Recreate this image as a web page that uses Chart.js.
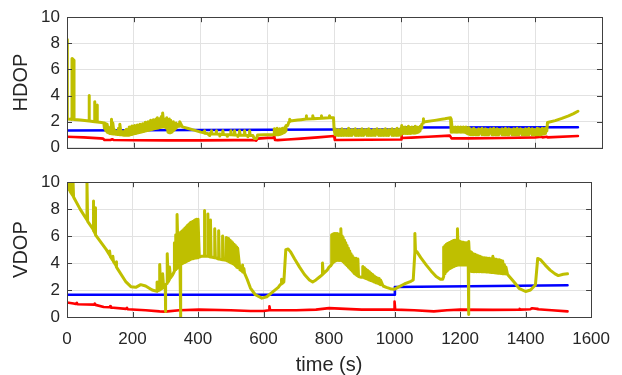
<!DOCTYPE html>
<html>
<head>
<meta charset="utf-8">
<script src="https://cdn.jsdelivr.net/npm/chart.js@4.4.1/dist/chart.umd.min.js"></script>
<style>
    html, body { margin: 0; padding: 0; background: #fff; }
    canvas { position: absolute; left: 0; }
    #hdopChart { top: 0; }
    #vdopChart { top: 165px; }
</style>
</head>
<body>
<canvas id="hdopChart" width="622" height="165"></canvas>
<canvas id="vdopChart" width="622" height="210"></canvas>
<script>
// ===============================
// Data (time in s)
// [t, v] = one point, [t, lo, hi] = a vertical stroke at t (dense noisy parts)
// ===============================
const xTickValues = [0, 200, 400, 600, 800, 1000, 1200, 1400, 1600];
const yTickValues = [0, 2, 4, 6, 8, 10];

const hdopOlive = [
    [0, 8.3], [1, 2.2], [10, 2.18], [15, 2.17], [15, 6.84], [21, 6.7], [21, 2.16], [40, 2.12],
    [66, 2.06], [66, 4.0], [67, 2.06], [83, 2.0], [83, 3.53], [84, 2.0], [90, 1.98], [90, 3.28], [91, 1.98],
    [103, 1.94], [110, 1.9],
    [112, 1.5, 1.9], [116, 1.3, 1.85], [120, 1.2, 1.8], [124, 1.15, 1.6], [128, 1.1, 1.5], [133, 1.08, 2.18],
    [137, 1.06, 1.9], [141, 1.05, 1.4], [145, 1.04, 1.3], [150, 1.03, 1.25], [154, 1.02, 1.5], [158, 1.0, 1.8],
    [162, 1.0, 1.3], [166, 0.98, 1.2], [170, 0.97, 1.25], [174, 0.96, 1.35], [178, 0.96, 1.42], [182, 0.96, 1.2],
    [186, 0.97, 1.6], [190, 1.0, 1.35], [194, 1.02, 1.67], [198, 1.05, 1.4], [202, 1.08, 1.7], [206, 1.1, 1.5],
    [210, 1.13, 1.75], [214, 1.15, 1.55], [218, 1.18, 1.8], [222, 1.2, 1.6], [226, 1.23, 1.85], [230, 1.25, 1.7],
    [234, 1.28, 1.95], [238, 1.3, 1.8], [242, 1.33, 2.0], [246, 1.35, 1.9], [250, 1.38, 2.1], [254, 1.4, 1.95],
    [258, 1.43, 2.15], [262, 1.45, 2.0], [266, 1.48, 2.2], [270, 1.5, 2.3], [274, 1.52, 2.1], [278, 1.55, 2.25],
    [282, 1.57, 2.4], [286, 1.6, 2.67], [290, 1.6, 2.2], [294, 1.58, 2.0], [298, 1.5, 2.3], [302, 1.2, 2.0],
    [306, 1.15, 2.2], [310, 1.15, 2.1], [314, 1.2, 1.9], [318, 1.3, 2.0], [322, 1.4, 1.8], [326, 1.5, 1.9],
    [330, 1.6, 1.8], [337, 1.65, 2.0],
    [345, 1.6], [360, 1.5], [380, 1.35], [400, 1.2], [410, 1.15], [411, 1.3], [412, 1.12], [420, 1.1],
    [426, 0.95], [427, 1.1], [431, 1.08], [431, 1.3], [433, 1.07], [446, 1.05], [446, 1.3], [448, 1.05],
    [456, 1.03], [457, 0.9], [458, 1.03], [466, 1.02], [466, 1.3], [468, 1.02], [478, 1.0], [479, 0.88],
    [480, 1.0], [490, 0.99], [490, 1.3], [492, 0.99], [501, 0.98], [501, 1.3], [503, 0.98], [510, 0.97],
    [511, 0.87], [512, 0.97], [516, 0.97], [516, 1.3], [518, 0.97], [531, 0.96], [531, 1.3], [533, 0.96],
    [540, 0.95], [541, 0.85], [542, 0.95], [546, 0.95], [546, 1.3], [548, 0.95], [556, 0.94], [560, 0.72],
    [567, 0.72], [570, 0.98], [590, 1.0], [618, 1.0],
    [620, 1.0, 1.45], [624, 1.0, 1.3], [628, 1.0, 1.5], [632, 1.0, 1.35], [636, 1.02, 1.45], [640, 1.05, 1.3],
    [644, 1.1, 1.5], [648, 1.15, 1.35], [652, 1.2, 1.6], [655, 1.3, 1.7],
    [660, 1.7], [663, 1.94], [666, 2.0], [666, 2.18], [668, 2.05], [690, 2.12], [700, 2.15], [715, 2.2],
    [715, 2.45], [717, 2.2], [735, 2.23], [735, 2.45], [737, 2.23], [760, 2.27], [760, 2.45], [762, 2.27],
    [785, 2.3], [785, 2.45], [787, 2.3], [797, 2.3], [799, 1.35],
    [802, 1.0, 1.45], [807, 0.96, 1.35], [812, 0.95, 1.4], [817, 0.95, 1.3], [822, 0.95, 1.45], [827, 0.95, 1.35],
    [832, 0.96, 1.38], [837, 0.95, 1.3], [842, 0.95, 1.5], [847, 0.95, 1.35], [852, 0.95, 1.4], [857, 1.1, 1.35],
    [862, 0.95, 1.45], [867, 0.95, 1.3], [872, 0.95, 1.38], [877, 0.96, 1.35], [882, 0.95, 1.45], [887, 0.95, 1.3],
    [892, 1.1, 1.4], [897, 0.95, 1.35], [902, 0.95, 1.45], [907, 0.95, 1.35], [912, 0.95, 1.3], [917, 0.96, 1.4],
    [922, 0.95, 1.35], [927, 1.1, 1.45], [932, 0.95, 1.3], [937, 0.95, 1.4], [942, 0.95, 1.35], [947, 0.95, 1.38],
    [952, 0.96, 1.45], [957, 0.95, 1.3], [962, 0.95, 1.4], [967, 1.1, 1.35], [972, 0.95, 1.45], [977, 0.95, 1.35],
    [982, 0.96, 1.4], [987, 0.95, 1.5], [992, 0.96, 1.35], [997, 0.97, 1.45],
    [1001, 1.1, 1.7], [1006, 1.1, 1.55], [1011, 1.1, 1.6], [1016, 1.1, 1.5], [1021, 1.1, 1.65], [1026, 1.1, 1.55],
    [1031, 1.12, 1.6], [1036, 1.12, 1.5], [1041, 1.12, 1.65], [1046, 1.15, 1.6], [1051, 1.2, 1.55], [1056, 1.3, 1.65],
    [1061, 1.5, 1.8],
    [1065, 1.9], [1065, 2.23], [1067, 1.98], [1100, 2.1], [1130, 2.22], [1147, 2.3],
    [1149, 1.2, 2.2], [1153, 1.2, 1.6], [1157, 1.22, 1.55], [1161, 1.2, 1.6], [1165, 1.2, 1.5], [1169, 1.2, 1.6],
    [1173, 1.22, 1.55], [1177, 1.2, 1.6], [1181, 1.2, 1.5], [1185, 1.2, 1.6], [1189, 1.2, 1.55], [1193, 1.15, 1.6],
    [1197, 1.1, 1.5], [1201, 1.05, 1.55],
    [1206, 1.0, 1.45], [1211, 1.0, 1.35], [1216, 1.0, 1.5], [1221, 1.0, 1.4], [1226, 1.0, 1.35], [1231, 1.0, 1.45],
    [1236, 1.15, 1.4], [1241, 1.0, 1.5], [1246, 1.0, 1.35], [1251, 1.0, 1.45], [1256, 1.0, 1.4], [1261, 1.0, 1.35],
    [1266, 1.15, 1.45], [1271, 1.0, 1.4], [1276, 1.0, 1.5], [1281, 1.0, 1.35], [1286, 1.0, 1.45], [1291, 1.0, 1.4],
    [1296, 1.15, 1.35], [1301, 1.0, 1.45], [1306, 1.0, 1.4], [1311, 1.0, 1.5], [1316, 1.0, 1.35], [1321, 1.0, 1.45],
    [1326, 1.15, 1.4], [1331, 1.0, 1.35], [1336, 1.0, 1.45], [1341, 1.0, 1.4], [1346, 1.0, 1.5], [1351, 1.0, 1.35],
    [1356, 1.15, 1.45], [1361, 1.0, 1.4], [1366, 1.0, 1.35], [1371, 1.0, 1.45], [1376, 1.0, 1.4], [1381, 1.0, 1.5],
    [1386, 1.15, 1.35], [1391, 1.0, 1.45], [1396, 1.0, 1.4], [1401, 1.0, 1.35], [1406, 1.0, 1.5], [1411, 1.0, 1.45],
    [1416, 1.0, 1.4], [1421, 1.05, 1.5], [1426, 1.05, 1.45], [1431, 1.1, 1.5],
    [1435, 1.3], [1437, 1.94], [1460, 2.08], [1480, 2.25], [1500, 2.45], [1515, 2.62], [1528, 2.8]
];
const hdopBlue = [[0, 1.32], [400, 1.36], [800, 1.4], [999, 1.42], [1001, 1.55], [1528, 1.57]];
const hdopRed = [
    [0, 0.85], [20, 0.83], [50, 0.8], [100, 0.72], [108, 0.7], [112, 0.6], [130, 0.6], [135, 0.65], [140, 0.6],
    [200, 0.58], [300, 0.57], [400, 0.57], [500, 0.59], [560, 0.59], [566, 0.55], [570, 0.7], [600, 0.76],
    [618, 0.78], [619, 1.0], [622, 0.6], [630, 0.59], [660, 0.63], [700, 0.7], [750, 0.8], [799, 0.9],
    [801, 0.6], [900, 0.62], [999, 0.64], [1000, 1.32], [1001, 0.75], [1030, 0.78], [1080, 0.85], [1145, 0.93],
    [1150, 0.72], [1200, 0.72], [1300, 0.75], [1400, 0.8], [1420, 0.85], [1422, 0.8], [1435, 0.85],
    [1437, 0.8], [1528, 0.9]
];

const vdopOlive = [
    [0, 10.4], [2, 9.6], [8, 9.4], [8, 10.4], [10, 9.3], [18, 9.0], [18, 10.4], [20, 8.9], [40, 8.0],
    [61, 7.2], [61, 10.0], [63, 7.1], [80, 6.5], [80, 8.6], [82, 6.4], [86, 6.2], [86, 8.1], [88, 6.1],
    [120, 5.0], [130, 4.6], [130, 4.9], [132, 4.5], [140, 4.2], [140, 4.5], [142, 4.1], [150, 3.8], [150, 4.1],
    [152, 3.7], [180, 2.6], [195, 2.25], [210, 2.2], [225, 2.4], [240, 2.3], [260, 2.0], [275, 1.9], [275, 2.6],
    [278, 1.95], [283, 2.0], [283, 3.9], [286, 2.05], [292, 2.15], [292, 3.2], [295, 2.2], [300, 2.35], [300, 0.4],
    [302, 2.4], [306, 2.5], [306, 4.7], [309, 2.6], [313, 2.8], [313, 3.7], [316, 2.9], [322, 3.1], [326, 3.3],
    [328, 3.4, 5.5], [332, 3.5, 6.1], [336, 3.6, 7.6], [340, 3.7, 6.2], [345, 3.8, 6.3], [348, 0, 6.3],
    [352, 3.95, 6.4], [356, 4.0, 6.5], [360, 4.05, 6.6], [364, 4.1, 6.7], [368, 4.15, 6.8], [372, 4.2, 6.9],
    [376, 4.25, 7.0], [380, 4.3, 7.05], [385, 4.32, 7.1], [390, 4.35, 7.2], [395, 4.37, 7.25], [400, 4.4, 7.25],
    [404, 4.45], [410, 4.5], [419, 4.5], [419, 7.9], [421, 4.5], [430, 4.5], [430, 7.65], [432, 4.5],
    [438, 4.45], [438, 7.2], [440, 4.45], [451, 4.4], [451, 6.55], [453, 4.4], [463, 4.3], [463, 6.4],
    [465, 4.3], [475, 4.25], [475, 6.0], [477, 4.25],
    [486, 4.2, 5.9], [490, 4.15, 5.85], [494, 4.1, 5.8], [498, 4.05, 5.7], [502, 4.0, 5.6], [506, 3.95, 5.5],
    [510, 3.9, 5.4], [514, 3.8, 5.3], [518, 3.7, 5.2], [521, 3.65, 5.1],
    [528, 3.5], [535, 3.4], [535, 3.85], [537, 3.35], [540, 3.3], [540, 3.6], [542, 3.25], [550, 2.8],
    [560, 2.15], [575, 1.65], [595, 1.4], [610, 1.5], [630, 1.9], [645, 2.2], [651, 2.4], [655, 2.45],
    [655, 2.8], [658, 2.5], [662, 2.6], [668, 5.0], [675, 5.05], [682, 4.85], [695, 4.3], [710, 3.7],
    [725, 3.15], [740, 2.75], [750, 2.6], [760, 2.75], [770, 2.95], [780, 3.15], [780, 4.0], [782, 3.2],
    [795, 3.5], [800, 3.7], [805, 3.8],
    [808, 3.9, 6.1], [812, 4.0, 6.15], [816, 4.1, 6.2], [820, 4.15, 6.2], [824, 4.2, 6.2], [828, 4.2, 6.15],
    [832, 4.2, 6.1], [836, 4.2, 6.55], [840, 4.15, 6.0], [843, 4.1, 5.9], [847, 4.0, 5.7], [851, 3.9, 5.5],
    [855, 3.8, 5.3], [859, 3.7, 5.1], [863, 3.6, 4.9], [867, 3.5, 4.7], [871, 3.4, 4.55], [875, 3.3, 4.4],
    [878, 3.2, 4.35],
    [882, 3.15], [882, 4.35], [884, 3.1], [888, 3.05], [888, 4.3], [890, 3.0], [898, 2.95],
    [903, 2.95, 3.75], [908, 2.9, 3.65], [913, 2.85, 3.55], [918, 2.8, 3.45], [923, 2.75, 3.35], [928, 2.7, 3.25],
    [933, 2.65, 3.15], [938, 2.6, 3.05], [943, 2.55, 2.95], [948, 2.5, 2.9], [953, 2.45, 2.85], [957, 2.4, 2.75],
    [965, 2.3], [975, 2.2], [987, 2.1], [999, 2.05], [1010, 2.2], [1030, 2.45], [1050, 2.65], [1057, 2.75],
    [1062, 4.8], [1062, 6.2], [1064, 4.85], [1068, 4.85], [1080, 4.4], [1097, 3.85], [1112, 3.4], [1127, 3.0],
    [1140, 2.8], [1147, 2.8],
    [1150, 3.0, 5.2], [1154, 3.2, 5.3], [1158, 3.35, 5.4], [1162, 3.45, 5.45], [1166, 3.55, 5.5], [1170, 3.6, 5.55],
    [1174, 3.65, 5.6], [1178, 3.7, 5.65], [1182, 3.75, 5.7], [1186, 3.8, 5.7], [1190, 3.82, 5.7], [1192, 3.85, 6.55],
    [1196, 3.85, 5.65], [1200, 3.85, 5.6], [1205, 3.85, 5.57], [1210, 3.85, 5.55], [1215, 3.85, 5.5], [1220, 3.85, 5.5],
    [1225, 3.8, 5.45], [1227, 0.18, 5.6], [1231, 3.4, 4.85], [1235, 3.38, 4.8], [1240, 3.36, 4.7], [1245, 3.36, 4.65],
    [1250, 3.36, 4.6], [1255, 3.36, 4.55], [1260, 3.36, 4.5], [1265, 3.36, 4.45], [1270, 3.35, 4.4], [1275, 3.35, 4.4],
    [1280, 3.34, 4.38], [1285, 3.33, 4.35], [1290, 3.32, 4.35], [1295, 3.3, 4.3], [1300, 3.3, 4.5], [1305, 3.28, 4.3],
    [1310, 3.26, 4.28], [1315, 3.25, 4.25], [1320, 3.24, 4.25], [1325, 3.22, 4.2], [1330, 3.2, 4.15], [1335, 3.2, 3.9],
    [1340, 3.2, 3.7],
    [1345, 3.15], [1355, 2.87], [1368, 2.5], [1380, 2.13], [1400, 1.89], [1415, 2.0], [1430, 2.38], [1437, 4.34],
    [1445, 4.26], [1460, 3.85], [1475, 3.48], [1490, 3.2], [1500, 3.07], [1515, 3.17], [1528, 3.2]
];
const vdopBlue = [[0, 1.65], [999, 1.65], [1001, 2.22], [1528, 2.35]];
const vdopRed = [
    [0, 1.08], [20, 1.0], [27, 0.96], [30, 1.05], [32, 0.95], [60, 0.93], [83, 0.92], [85, 1.0], [87, 0.9],
    [112, 0.74], [130, 0.72], [132, 0.8], [134, 0.7], [180, 0.6], [183, 0.68], [185, 0.58], [240, 0.5],
    [283, 0.42], [300, 0.4], [343, 0.5], [403, 0.55], [500, 0.5], [560, 0.45], [600, 0.45], [617, 0.5],
    [618, 0.8], [620, 0.5], [700, 0.5], [760, 0.55], [800, 0.66], [900, 0.55], [999, 0.55], [1000, 1.15],
    [1002, 0.55], [1060, 0.5], [1120, 0.42], [1160, 0.5], [1200, 0.55], [1300, 0.53], [1380, 0.55],
    [1382, 0.6], [1384, 0.55], [1415, 0.58], [1420, 0.65], [1435, 0.6], [1437, 0.58], [1480, 0.5], [1528, 0.42]
];

// ===============================
// Helpers
// ===============================
const FONT = '"Liberation Sans", Arial, sans-serif';
const TEXT = '#262626';

function toPoints(list) {
    const out = [];
    list.forEach(p => {
        if (p.length === 3) {
            out.push({ x: p[0], y: p[1] });
            out.push({ x: p[0], y: p[2] });
        } else {
            out.push({ x: p[0], y: p[1] });
        }
    });
    return out;
}

function series(list, color, width) {
    return {
        data: toPoints(list),
        borderColor: color,
        borderWidth: width,
        pointRadius: 0,
        tension: 0,
        fill: false,
        clip: 0,
        borderJoinStyle: 'round',
        borderCapStyle: 'round'
    };
}

// box round the axes with inward tick marks, like the original figure
const boxPlugin = {
    id: 'box',
    afterDatasetsDraw(chart) {
        const { ctx, chartArea: a, scales } = chart;
        ctx.save();
        ctx.strokeStyle = '#404040';
        ctx.lineWidth = 1;
        ctx.strokeRect(Math.round(a.left) + 0.5, Math.round(a.top) + 0.5,
            Math.round(a.right - a.left), Math.round(a.bottom - a.top));
        ctx.beginPath();
        scales.x.ticks.forEach(t => {
            const px = Math.round(scales.x.getPixelForValue(t.value)) + 0.5;
            ctx.moveTo(px, a.bottom); ctx.lineTo(px, a.bottom - 5);
            ctx.moveTo(px, a.top); ctx.lineTo(px, a.top + 5);
        });
        scales.y.ticks.forEach(t => {
            const py = Math.round(scales.y.getPixelForValue(t.value)) + 0.5;
            ctx.moveTo(a.left, py); ctx.lineTo(a.left + 5, py);
            ctx.moveTo(a.right, py); ctx.lineTo(a.right - 5, py);
        });
        ctx.stroke();
        ctx.restore();
    }
};

function makeChart(id, yTitle, datasets, opts) {
    return new Chart(document.getElementById(id), {
        type: 'line',
        data: { datasets: datasets },
        plugins: [boxPlugin],
        options: {
            responsive: false,
            animation: false,
            events: [],
            layout: { padding: { left: 0, right: 20, top: opts.top, bottom: 0 } },
            plugins: { legend: { display: false }, tooltip: { enabled: false } },
            scales: {
                x: {
                    type: 'linear',
                    min: 0,
                    max: 1600,
                    afterBuildTicks: s => { s.ticks = xTickValues.map(v => ({ value: v })); },
                    afterFit: s => { s.height = opts.xHeight; },
                    grid: { color: '#e2e2e2', drawTicks: false },
                    border: { display: false },
                    ticks: {
                        display: opts.showX,
                        padding: 12,
                        maxRotation: 0,
                        color: TEXT,
                        font: { family: FONT, size: 17 },
                        callback: v => String(v)
                    },
                    title: {
                        display: opts.showX,
                        text: 'time (s)',
                        color: TEXT,
                        font: { family: FONT, size: 20, lineHeight: 1 },
                        padding: { top: 0, bottom: 0 }
                    }
                },
                y: {
                    min: 0,
                    max: 10,
                    afterBuildTicks: s => { s.ticks = yTickValues.map(v => ({ value: v })); },
                    afterFit: s => { s.width = 67; },
                    grid: { color: '#e2e2e2', drawTicks: false },
                    border: { display: false },
                    ticks: { padding: 7, color: TEXT, font: { family: FONT, size: 17 }, callback: v => String(v) },
                    title: {
                        display: true,
                        text: yTitle,
                        color: TEXT,
                        font: { family: FONT, size: 20, lineHeight: 1 },
                        padding: { top: 11, bottom: 0 }
                    }
                }
            }
        }
    });
}

// ===============================
// Charts
// ===============================
makeChart('hdopChart', 'HDOP', [
    series(hdopOlive, '#bfbf00', 3),
    series(hdopBlue, '#0000ff', 2.6),
    series(hdopRed, '#ff0000', 2.6)
], { top: 17, xHeight: 12, showX: false });

makeChart('vdopChart', 'VDOP', [
    series(vdopOlive, '#bfbf00', 3),
    series(vdopBlue, '#0000ff', 2.6),
    series(vdopRed, '#ff0000', 2.6)
], { top: 16, xHeight: 58, showX: true });
</script>
</body>
</html>
